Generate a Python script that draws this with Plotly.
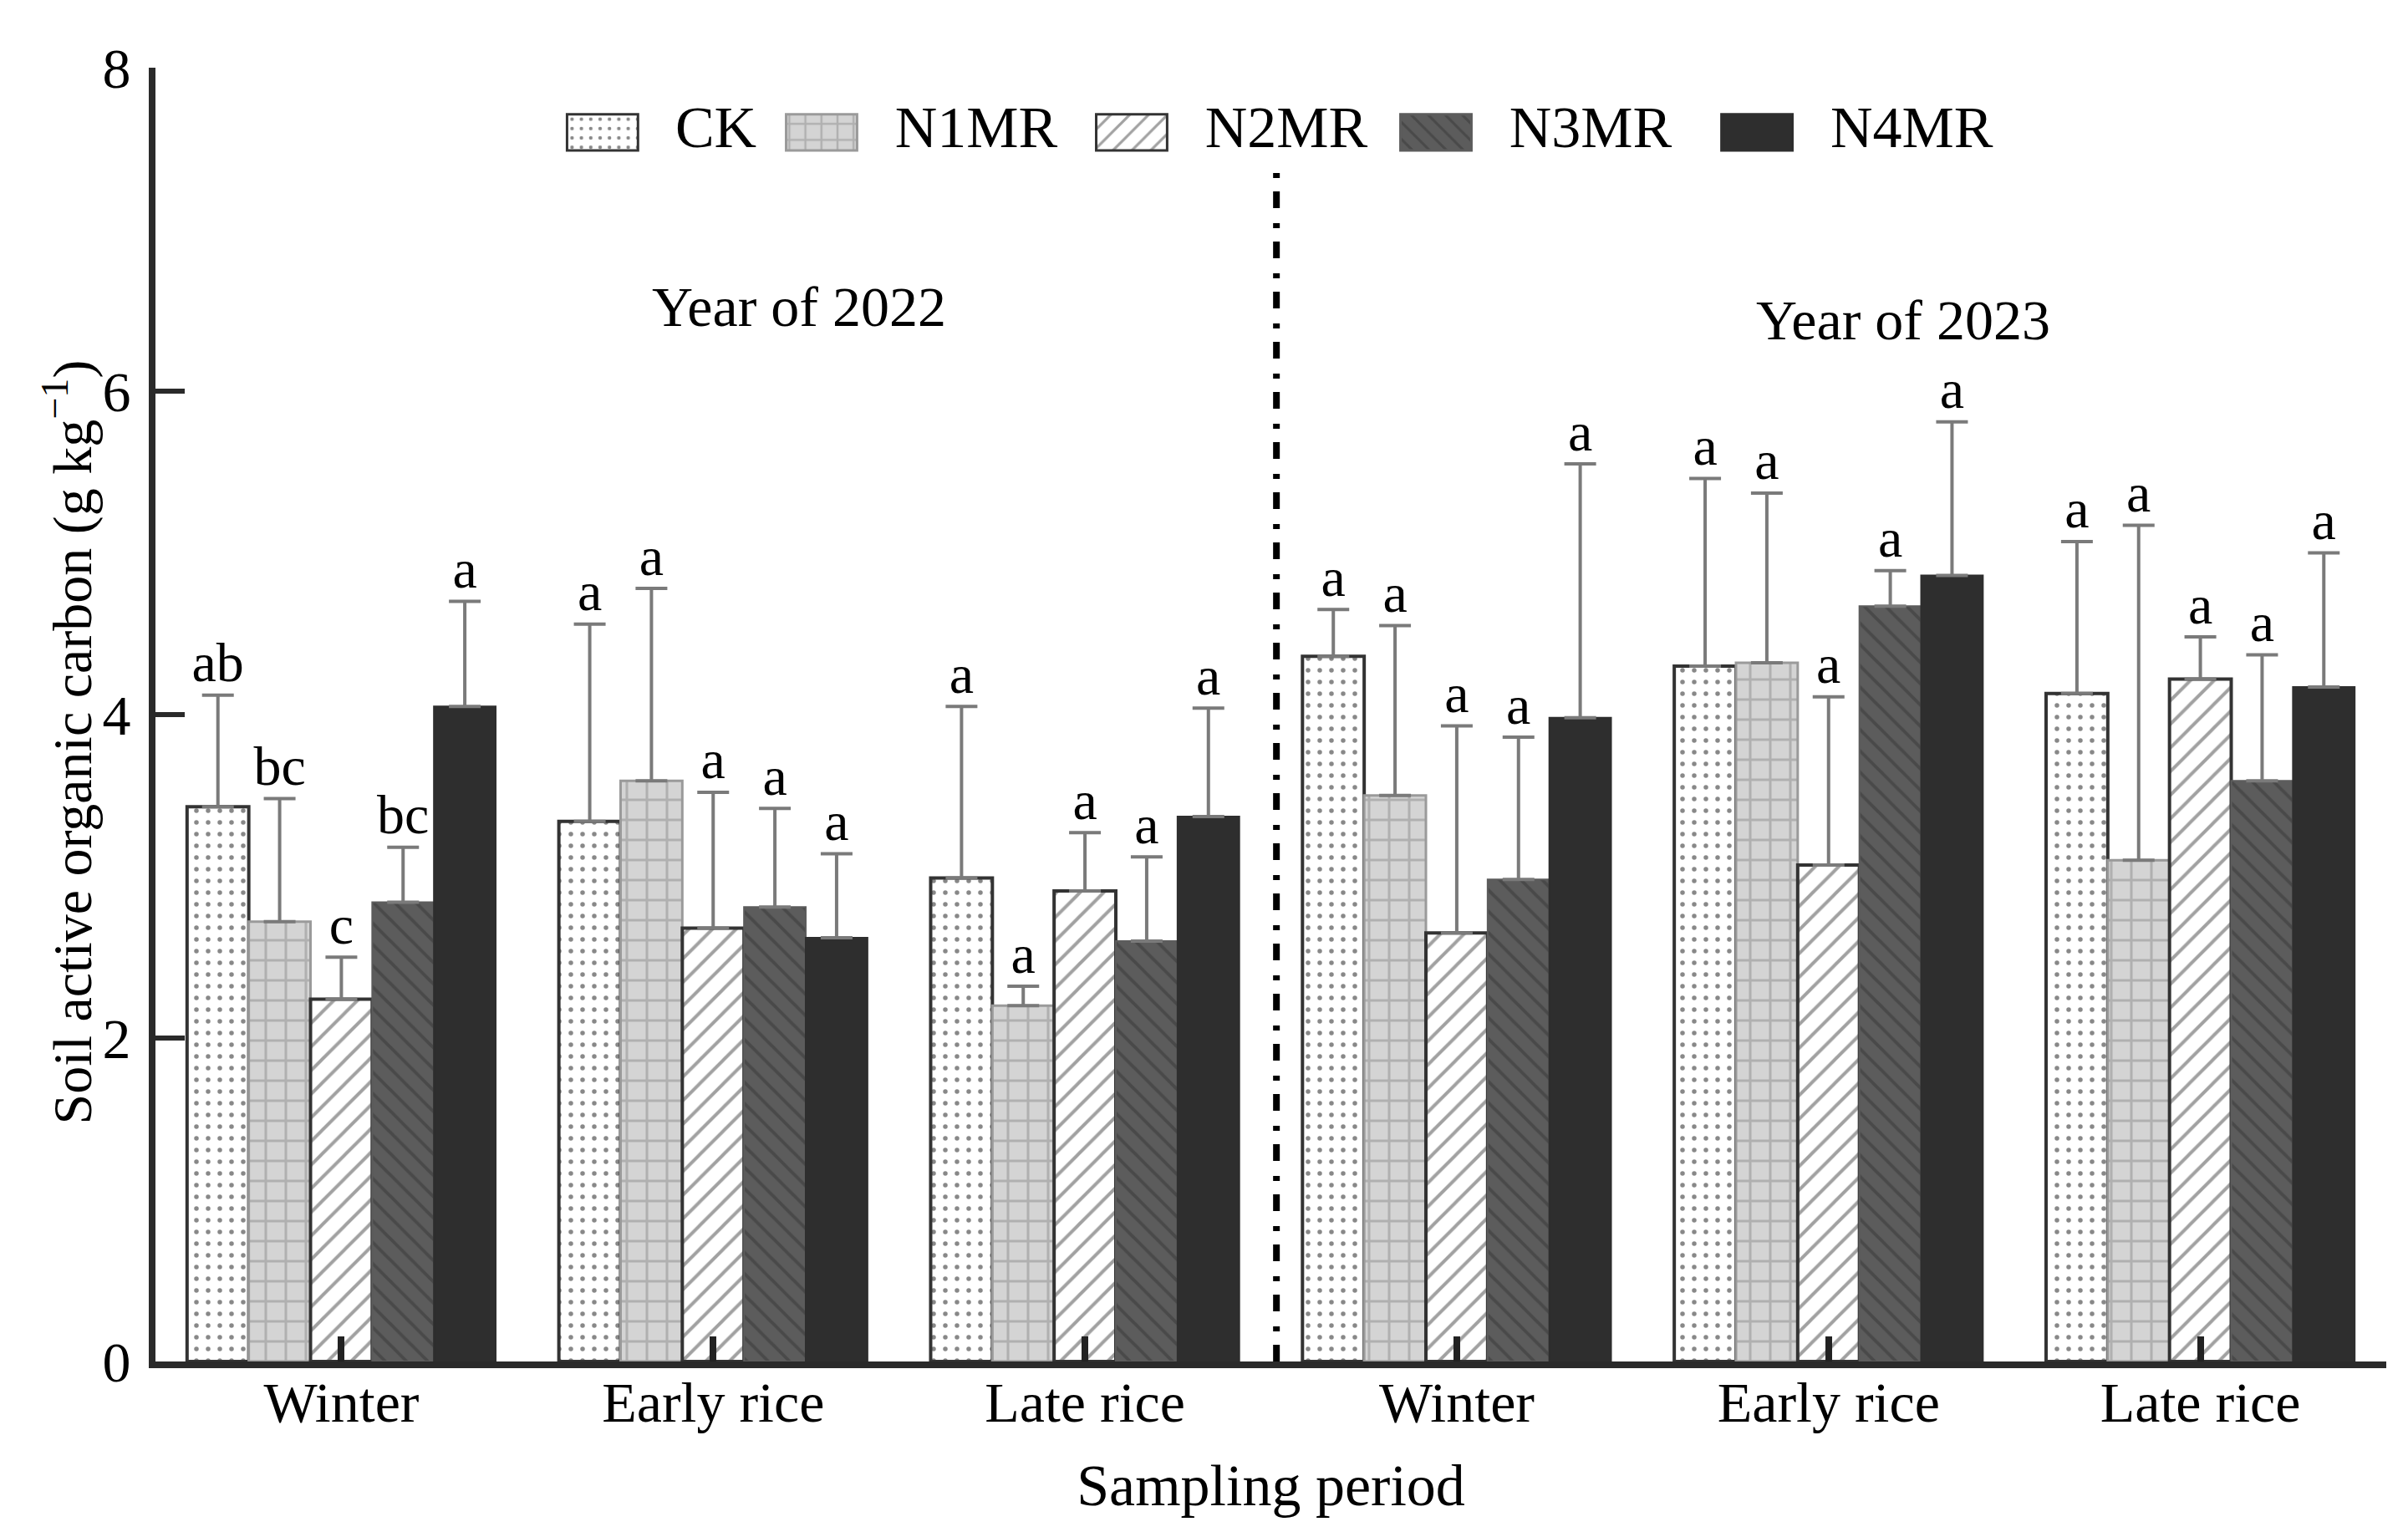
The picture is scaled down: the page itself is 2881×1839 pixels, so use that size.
import plotly.graph_objects as go

# ---------------- data ----------------
periods = ["Winter", "Early rice", "Late rice", "Winter", "Early rice", "Late rice"]
treatments = ["CK", "N1MR", "N2MR", "N3MR", "N4MR"]

ck_mean   = [3.43, 3.34, 2.99, 4.36, 4.30, 4.13]
ck_err    = [0.69, 1.22, 1.06, 0.29, 1.16, 0.94]
n1_mean   = [2.72, 3.59, 2.20, 3.50, 4.32, 3.10]
n1_err    = [0.76, 1.19, 0.12, 1.05, 1.05, 2.07]
n2_mean   = [2.24, 2.68, 2.91, 2.65, 3.07, 4.22]
n2_err    = [0.26, 0.84, 0.36, 1.28, 1.04, 0.26]
n3_mean   = [2.84, 2.81, 2.60, 2.98, 4.67, 3.59]
n3_err    = [0.34, 0.61, 0.52, 0.88, 0.22, 0.78]
n4_mean   = [4.05, 2.62, 3.37, 3.98, 4.86, 4.17]
n4_err    = [0.65, 0.52, 0.67, 1.57, 0.95, 0.83]

ck_lab = ["ab", "a", "a", "a", "a", "a"]
n1_lab = ["bc", "a", "a", "a", "a", "a"]
n2_lab = ["c", "a", "a", "a", "a", "a"]
n3_lab = ["bc", "a", "a", "a", "a", "a"]
n4_lab = ["a", "a", "a", "a", "a", "a"]

year_labels = ["Year of 2022", "Year of 2023"]
y_ticks = [0, 2, 4, 6, 8]
y_title = "Soil active organic carbon (g kg<sup>\u22121</sup>)"
x_title = "Sampling period"

# ---------------- styles ----------------
FONT = "Liberation Serif"
FS = 68
BARGAP = 0.17
n_series = len(treatments)
bar_w = (1 - BARGAP) / n_series

styles = [
    dict(bg="white", fg="#111111", shape=".", size=14, sol=0.12, line="#333333", lw=4),
    dict(bg="#d4d4d4", fg="#8c8c8c", shape="+", size=24, sol=0.24, line="#9a9a9a", lw=3),
    dict(bg="white", fg="#444444", shape="/", size=20, sol=0.2, line="#333333", lw=4),
    dict(bg="#5c5c5c", fg="#363636", shape="\\", size=18, sol=0.22, line="#5c5c5c", lw=2),
    dict(bg="#2e2e2e", fg="#2e2e2e", shape="", size=10, sol=0.3, line="#2e2e2e", lw=2),
]

means = [ck_mean, n1_mean, n2_mean, n3_mean, n4_mean]
errs = [ck_err, n1_err, n2_err, n3_err, n4_err]
labs = [ck_lab, n1_lab, n2_lab, n3_lab, n4_lab]

xpos = list(range(len(periods)))

fig = go.Figure()

for i, name in enumerate(treatments):
    st = styles[i]
    fig.add_trace(go.Bar(
        x=xpos, y=means[i], name=name, showlegend=False,
        marker=dict(color=st["bg"],
                    pattern=dict(shape=st["shape"], fgcolor=st["fg"], bgcolor=st["bg"],
                                 size=st["size"], solidity=st["sol"], fillmode="overlay"),
                    line=dict(color=st["line"], width=st["lw"])),
        error_y=dict(type="data", symmetric=False, array=errs[i],
                     arrayminus=[0] * len(errs[i]),
                     color="#7a7a7a", thickness=4, width=19),
    ))

# significance letters above error bars
for i in range(n_series):
    off = (i - (n_series - 1) / 2) * bar_w
    fig.add_trace(go.Scatter(
        x=[p + off for p in xpos],
        y=[m + e for m, e in zip(means[i], errs[i])],
        mode="text", text=labs[i], textposition="top center",
        textfont=dict(family=FONT, size=66, color="black"),
        showlegend=False, hoverinfo="skip", cliponaxis=False,
    ))

# ---------------- custom legend (overlay axis in plot fractions) ----------------
leg_sw_x = [0.2004, 0.2986, 0.4376, 0.5740, 0.7179]
leg_tx_x = [0.2330, 0.3315, 0.4705, 0.6069, 0.7508]
leg_y0, leg_h, leg_w = 0.936, 0.028, 0.0318
for i, name in enumerate(treatments):
    st = styles[i]
    fig.add_trace(go.Bar(
        x=[leg_sw_x[i]], y=[leg_h], base=[leg_y0], width=[leg_w],
        xaxis="x2", yaxis="y2", showlegend=False, hoverinfo="skip",
        marker=dict(color=st["bg"],
                    pattern=dict(shape=st["shape"], fgcolor=st["fg"], bgcolor=st["bg"],
                                 size=st["size"] * 0.8, solidity=st["sol"], fillmode="overlay"),
                    line=dict(color=st["line"], width=3)),
    ))
    fig.add_trace(go.Scatter(
        x=[leg_tx_x[i]], y=[leg_y0 + leg_h / 2], mode="text", text=[name],
        textposition="middle right", xaxis="x2", yaxis="y2",
        textfont=dict(family=FONT, size=70, color="black"),
        showlegend=False, hoverinfo="skip", cliponaxis=False,
    ))

# dividing dash-dot line between years
fig.add_shape(type="line", xref="x", yref="y", x0=2.515, x1=2.515, y0=0, y1=7.42,
              line=dict(color="black", width=8, dash="20px,16px,6px,18px"))

fig.add_annotation(x=1.23, y=6.52, xref="x", yref="y", text=year_labels[0],
                   showarrow=False, font=dict(family=FONT, size=FS, color="black"))
fig.add_annotation(x=4.20, y=6.44, xref="x", yref="y", text=year_labels[1],
                   showarrow=False, font=dict(family=FONT, size=FS, color="black"))

# y-axis title (as rotated annotation to match its placement)
fig.add_annotation(x=-0.039, y=0.479, xref="paper", yref="paper", text=y_title,
                   textangle=-90, showarrow=False, xanchor="center", yanchor="middle",
                   font=dict(family=FONT, size=66, color="black"))

fig.update_layout(
    width=2881, height=1839,
    margin=dict(l=178, r=34, t=73, b=218),
    paper_bgcolor="white", plot_bgcolor="white",
    barmode="group", bargap=BARGAP, bargroupgap=0,
    font=dict(family=FONT, size=FS, color="black"),
    xaxis=dict(range=[-0.5, 5.5], tickvals=xpos, ticktext=periods,
               ticks="inside", ticklen=30, tickwidth=8, tickcolor="#222222",
               showline=True, linecolor="#2a2a2a", linewidth=8, automargin=False,
               showgrid=False, zeroline=False, ticklabelstandoff=-18,
               title=dict(text=x_title, font=dict(family=FONT, size=70), standoff=40),
               tickfont=dict(family=FONT, size=FS)),
    yaxis=dict(range=[0, 8], tickvals=y_ticks, ticks="inside", ticklen=35, tickwidth=6,
               tickcolor="#2a2a2a", showline=True, linecolor="#2a2a2a", linewidth=8,
               automargin=False, showgrid=False, zeroline=False, ticklabelstandoff=8,
               tickfont=dict(family=FONT, size=FS)),
    xaxis2=dict(range=[0, 1], domain=[0, 1], overlaying="x", visible=False, fixedrange=True),
    yaxis2=dict(range=[0, 1], domain=[0, 1], overlaying="y", visible=False, fixedrange=True),
)

fig.write_html("out.html")
